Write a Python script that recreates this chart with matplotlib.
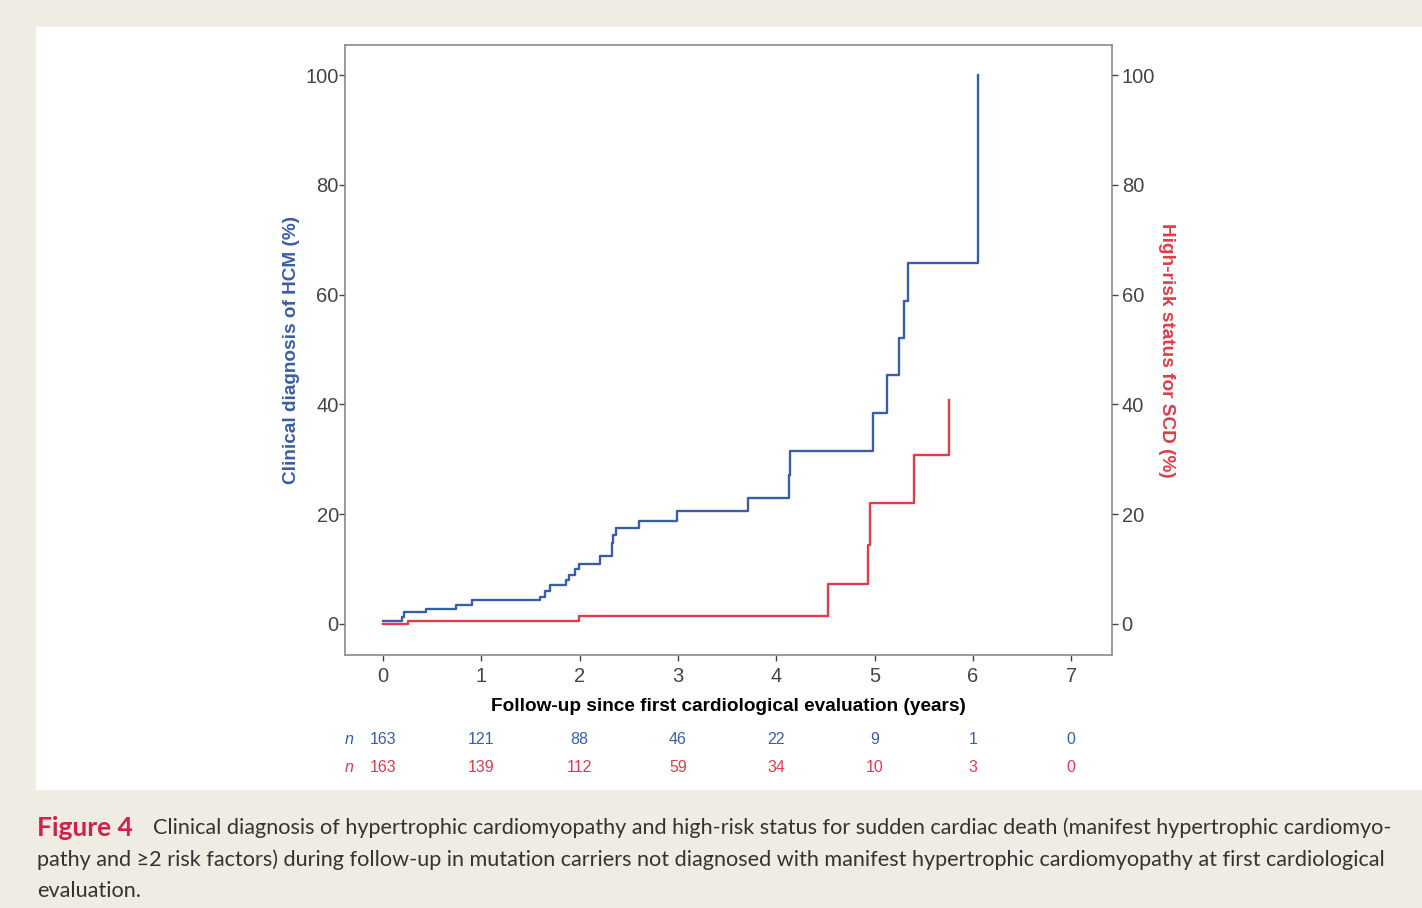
import matplotlib.pyplot as plt
from matplotlib.patches import Rectangle
from matplotlib.transforms import blended_transform_factory

plt.rcParams['font.family'] = ['Liberation Sans', 'DejaVu Sans']

# Kaplan-Meier style cumulative curves (years, %)
hcm_years = [0, 0.19, 0.21, 0.44, 0.74, 0.905, 1.60, 1.65, 1.70, 1.86, 1.89, 1.95, 1.995,
             2.21, 2.33, 2.34, 2.37, 2.60, 2.99, 3.71, 4.13, 4.14, 4.98, 5.13, 5.25, 5.30,
             5.34, 6.05]
hcm_pct = [0.6, 1.2, 2.1, 2.8, 3.5, 4.4, 5.0, 6.1, 7.1, 8.0, 9.0, 10.0, 11.0,
           12.3, 14.7, 16.2, 17.4, 18.8, 20.5, 23.0, 27.2, 31.5, 38.5, 45.3, 52.1, 58.9,
           65.8, 100]

scd_years = [0, 0.25, 1.99, 4.53, 4.93, 4.95, 5.40, 5.76]
scd_pct = [0, 0.6, 1.5, 7.3, 14.4, 22.1, 30.8, 40.9]

# numbers at risk
risk_years = [0, 1, 2, 3, 4, 5, 6, 7]
n_hcm = [163, 121, 88, 46, 22, 9, 1, 0]
n_scd = [163, 139, 112, 59, 34, 10, 3, 0]

blue = '#3a5da8'
red = '#e03c4a'
grey = '#444444'
spine = '#8a8a8a'

fig = plt.figure(figsize=(14.22, 9.08), dpi=100)
fig.patch.set_facecolor('#efece3')
fig.patches.append(Rectangle((36 / 1422, 1 - 790 / 908), 1 - 36 / 1422, (790 - 27) / 908,
                             transform=fig.transFigure, facecolor='white',
                             edgecolor='none', zorder=-5))

ax = fig.add_axes([345 / 1422, 1 - 655 / 908, 767 / 1422, 610 / 908])
ax.step(hcm_years, hcm_pct, where='post', color=blue, lw=1.7)
ax.step(scd_years, scd_pct, where='post', color=red, lw=1.7)

ax.set_xlim(-0.387, 7.416)
ax.set_ylim(-5.65, 105.5)
ax.set_xticks(range(8))
ax.set_yticks(range(0, 101, 20))
for s in ax.spines.values():
    s.set_color(spine)
    s.set_linewidth(1.2)
ax.tick_params(colors=grey, labelsize=14.5, length=4, width=1, pad=0.5)
ax.tick_params(axis='x', pad=5)

ax.set_xlabel('Follow-up since first cardiological evaluation (years)',
              fontsize=13.7, fontweight='bold', color='black', va='center')
ax.xaxis.set_label_coords(0.5, -0.0852)
ax.set_ylabel('Clinical diagnosis of HCM (%)', fontsize=13.7, fontweight='bold',
              color=blue, va='center')
ax.yaxis.set_label_coords(-0.0704, 0.5)

ax2 = ax.twinx()
ax2.set_ylim(ax.get_ylim())
ax2.set_yticks(range(0, 101, 20))
ax2.tick_params(colors=grey, labelsize=14.5, length=4, width=1, pad=3)
for s in ax2.spines.values():
    s.set_visible(False)
ax2.set_ylabel('High-risk status for SCD (%)', fontsize=13.7, fontweight='bold',
               color=red, rotation=270, va='center')
ax2.yaxis.set_label_coords(1.0717, 0.5)

# numbers at risk below the axis
trans = blended_transform_factory(ax.transData, fig.transFigure)
for rows, col, ypx in [(n_hcm, blue, 739), (n_scd, red, 767)]:
    yf = 1 - ypx / 908
    ax.text(-0.34, yf, 'n', transform=trans, color=col, fontsize=11.5,
            style='italic', ha='center', va='center')
    for t, v in zip(risk_years, rows):
        ax.text(t, yf, str(v), transform=trans, color=col, fontsize=11.5,
                ha='center', va='center')

# caption
cap_font = ['Lato', 'DejaVu Sans']
x0 = 37 / 1422
fig.text(x0, 1 - 828 / 908, 'Figure 4', color='#d21f4b', fontsize=19,
         fontweight='bold', family=cap_font, va='center')
fig.text(153 / 1422, 1 - 828 / 908,
         'Clinical diagnosis of hypertrophic cardiomyopathy and high-risk status for '
         'sudden cardiac death (manifest hypertrophic cardiomyo-',
         color='#333333', fontsize=15.6, family=cap_font, va='center')
fig.text(x0, 1 - 860 / 908,
         'pathy and \u22652 risk factors) during follow-up in mutation carriers not '
         'diagnosed with manifest hypertrophic cardiomyopathy at first cardiological',
         color='#333333', fontsize=15.6, family=cap_font, va='center')
fig.text(x0, 1 - 891 / 908, 'evaluation.', color='#333333', fontsize=15.6,
         family=cap_font, va='center')

fig.savefig('out.png', dpi=100, facecolor=fig.get_facecolor())
